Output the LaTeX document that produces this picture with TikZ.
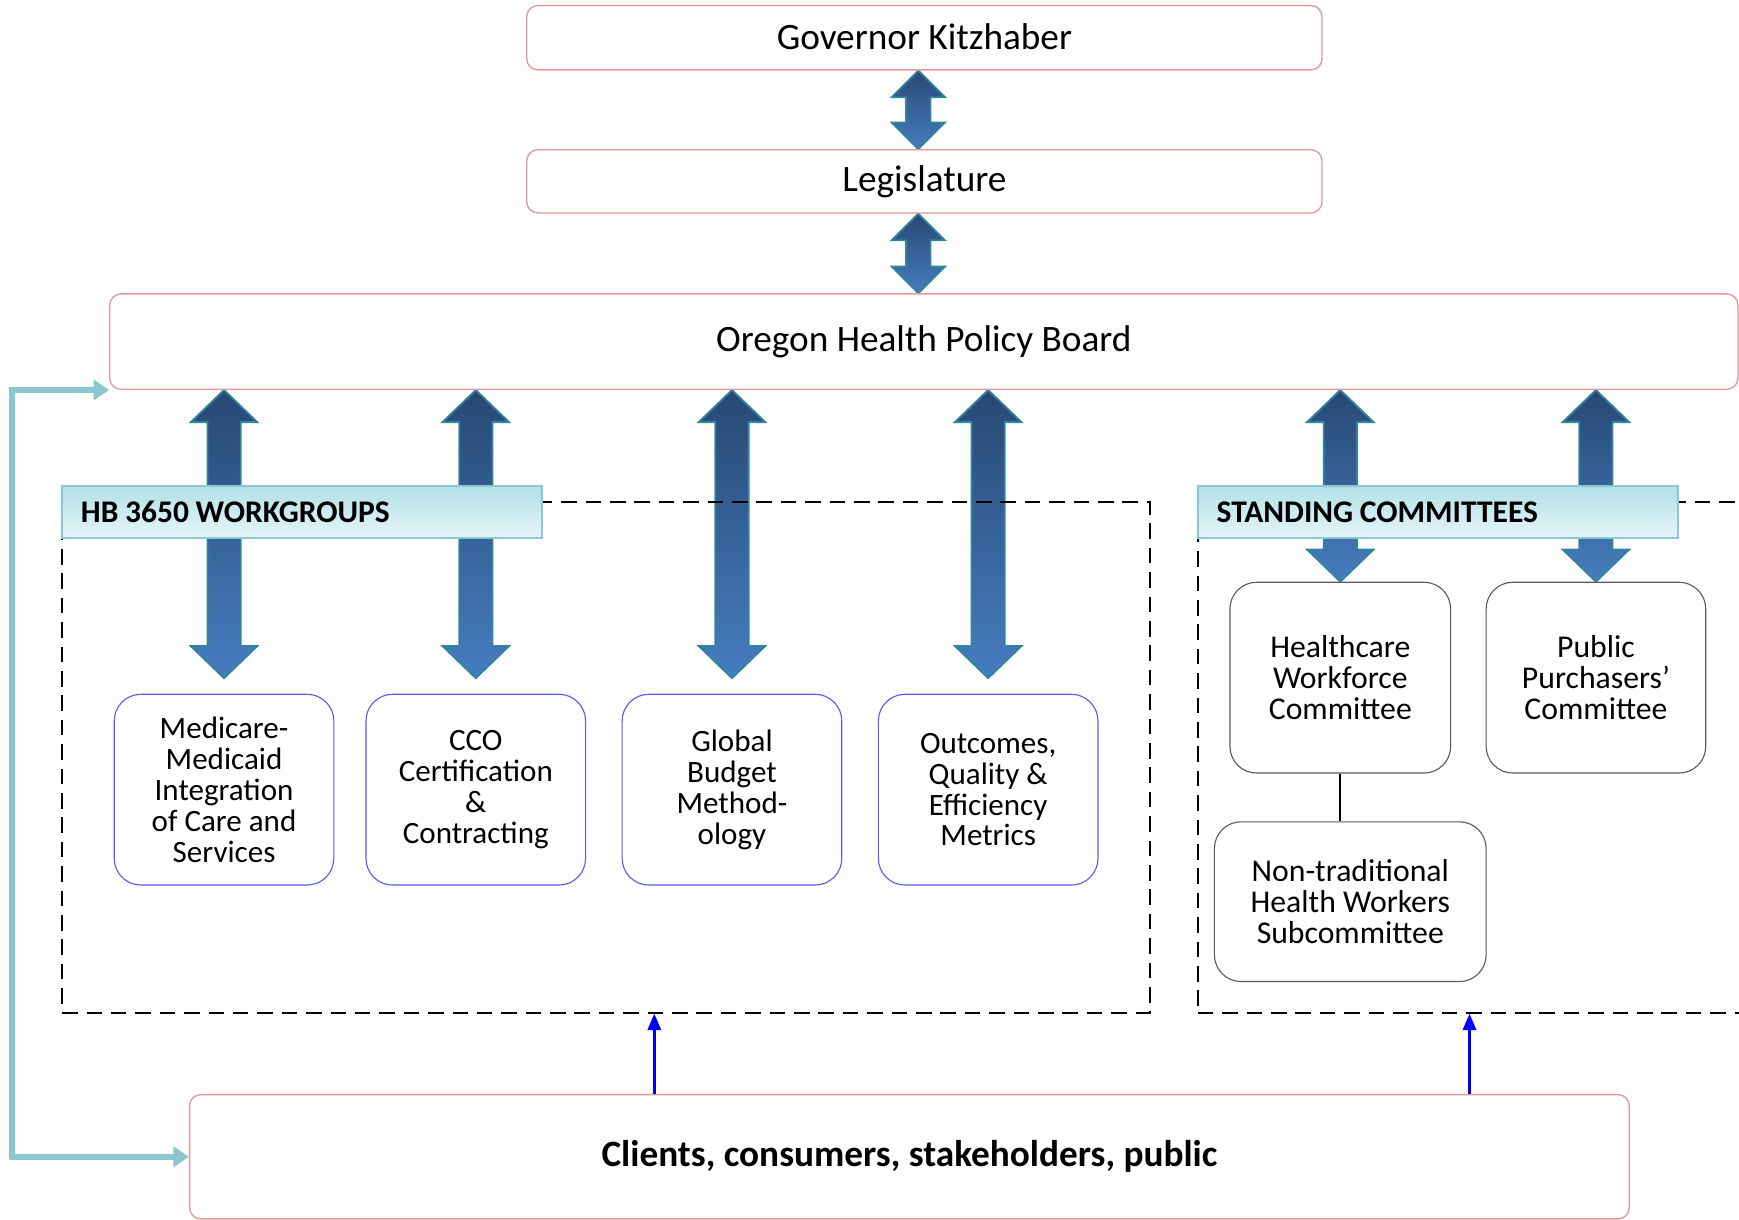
\documentclass[tikz,border=0pt]{standalone}
\usepackage{fontspec}
\setmainfont{Carlito}
\usetikzlibrary{calc,arrows.meta}
\pgfdeclarelayer{bg}
\pgfsetlayers{bg,main}
\definecolor{pinkc}{RGB}{229,150,155}
\definecolor{wgblue}{RGB}{90,90,240}
\definecolor{grayc}{RGB}{90,90,90}
\definecolor{arrtop}{RGB}{40,72,115}
\definecolor{arrbot}{RGB}{70,125,192}
\definecolor{arredge}{RGB}{49,133,155}
\definecolor{headtop}{RGB}{178,224,232}
\definecolor{headbot}{RGB}{230,245,247}
\definecolor{headedge}{RGB}{140,200,210}
\definecolor{tealc}{RGB}{140,198,206}
\newcommand\dblarrow[5]{%
  \path[blockarrow] let \p1=#1, \p2=#2 in
  (\x1,\y1) -- (\x1+#3,\y1-#5) -- (\x1+#4,\y1-#5) -- (\x1+#4,\y2+#5) -- (\x1+#3,\y2+#5)
  -- (\x1,\y2) -- (\x1-#3,\y2+#5) -- (\x1-#4,\y2+#5) -- (\x1-#4,\y1-#5) -- (\x1-#3,\y1-#5) -- cycle;}
\newcommand\hdrfont{\bfseries\fontsize{14.2}{16}\selectfont}
\tikzset{
  pinkbox/.style={draw=pinkc, line width=0.6pt, rounded corners=5pt, fill=white, inner sep=0pt},
  bigtext/.style={font=\fontsize{16.8}{20}\selectfont},
  wgbox/.style={draw=wgblue, line width=0.5pt, rounded corners=12pt, fill=white, align=center,
    minimum width=99pt, minimum height=86pt, inner sep=0pt, font=\fontsize{14}{13.9}\selectfont},
  scbox/.style={draw=grayc, line width=0.5pt, rounded corners=12pt, fill=white, align=center,
    inner sep=0pt, font=\fontsize{14.3}{13.8}\selectfont},
  header/.style={draw=headedge, line width=1pt, top color=headtop, bottom color=headbot,
    minimum height=23.5pt, inner xsep=8.5pt, inner ysep=0pt, text width=199.5pt, align=left,
    font=\hdrfont},
  dashframe/.style={draw, line width=0.9pt, dash pattern=on 7pt off 4pt, inner sep=0pt},
  blockarrow/.style={draw=arredge, line width=0.8pt, top color=arrtop, bottom color=arrbot},
  tealarrow/.style={draw=tealc, line width=2.8pt, {Triangle[length=7pt,width=9pt]}-{Triangle[length=7pt,width=9pt]}},
  bluearrow/.style={draw=blue, line width=1.3pt, -{Triangle[length=7.5pt,width=6pt]}},
}
\begin{document}
\begin{tikzpicture}[x=0.5pt,y=-0.5pt]
\useasboundingbox (0,0) rectangle (1568,1100);
% top boxes
\node[pinkbox, bigtext, minimum width=358.5pt, minimum height=29pt] (gov) at (833.5,34) {\raisebox{1pt}{Governor Kitzhaber}};
\node[pinkbox, bigtext, minimum width=358.5pt, minimum height=28.5pt] (leg) at (833.5,163.5) {Legislature};
\node[pinkbox, bigtext, minimum width=734pt, minimum height=43pt] (ohpb) at (833,308) {Oregon Health Policy Board};
% frames
\node[dashframe, minimum width=490.5pt, minimum height=230pt] (wgframe) at (546.5,683) {};
\node[dashframe, minimum width=270pt, minimum height=230pt] (scframe) at (1350,683) {};
% headers
\node[header] (wghead) at (272.5,461.5) {HB\hspace{3pt}3650\hspace{3pt}WORKGROUPS};
\node[header] (schead) at (1296.5,461.5) {STANDING\hspace{3pt}COMMITTEES};
% workgroup boxes
\node[wgbox] (wg1) at (202,712) {Medicare-\\Medicaid\\Integration\\of Care and\\Services};
\node[wgbox] (wg2) at (429,712) {CCO\\Certification\\\&\\Contracting};
\node[wgbox] (wg3) at (660,712) {Global\\Budget\\Method-\\ology};
\node[wgbox] (wg4) at (891,712) {Outcomes,\\Quality \&\\Efficiency\\Metrics};
% standing committee boxes
\node[scbox, minimum width=99.5pt, minimum height=86pt] (hc) at (1208.5,611) {Healthcare\\Workforce\\Committee};
\node[scbox, minimum width=99pt, minimum height=86pt] (pp) at (1439,611) {Public\\Purchasers’\\Committee};
\node[scbox, minimum width=122.5pt, minimum height=72pt] (nt) at (1217.5,813) {Non-traditional\\Health Workers\\Subcommittee};
% clients
\node[pinkbox, minimum width=649pt, minimum height=56pt, font=\bfseries\fontsize{16.8}{20}\selectfont] (cl) at (820,1043) {Clients, consumers, stakeholders, public};
% helper coordinates
\coordinate (bx1) at (590,0);
\coordinate (bx2) at (1325,0);
\coordinate (elbow) at (11,0);
\coordinate (gx) at (828,0);
\begin{pgfonlayer}{bg}
  \dblarrow{(gov.south -| gx)}{(leg.north -| gx)}{12pt}{5.5pt}{12pt}
  \dblarrow{(leg.south -| gx)}{(ohpb.north -| gx)}{12pt}{5.5pt}{12pt}
  \dblarrow{(ohpb.south -| wg1.north)}{([yshift=7pt]wg1.north)}{15pt}{7.5pt}{14.5pt}
  \dblarrow{(ohpb.south -| wg2.north)}{([yshift=7pt]wg2.north)}{15pt}{7.5pt}{14.5pt}
  \dblarrow{(ohpb.south -| wg3.north)}{([yshift=7pt]wg3.north)}{15pt}{7.5pt}{14.5pt}
  \dblarrow{(ohpb.south -| wg4.north)}{([yshift=7pt]wg4.north)}{15pt}{7.5pt}{14.5pt}
  \dblarrow{(ohpb.south -| hc.north)}{(hc.north)}{15pt}{7.5pt}{14.5pt}
  \dblarrow{(ohpb.south -| pp.north)}{(pp.north)}{15pt}{7.5pt}{14.5pt}
\end{pgfonlayer}
% connectors
\draw[line width=1pt] (hc.south) -- (nt.north -| hc.south);
\draw[bluearrow] (cl.north -| bx1) -- (wgframe.south -| bx1);
\draw[bluearrow] (cl.north -| bx2) -- (scframe.south -| bx2);
\draw[tealarrow] (ohpb.south west) -- (ohpb.south west -| elbow) |- (cl.west);
\end{tikzpicture}
\end{document}
